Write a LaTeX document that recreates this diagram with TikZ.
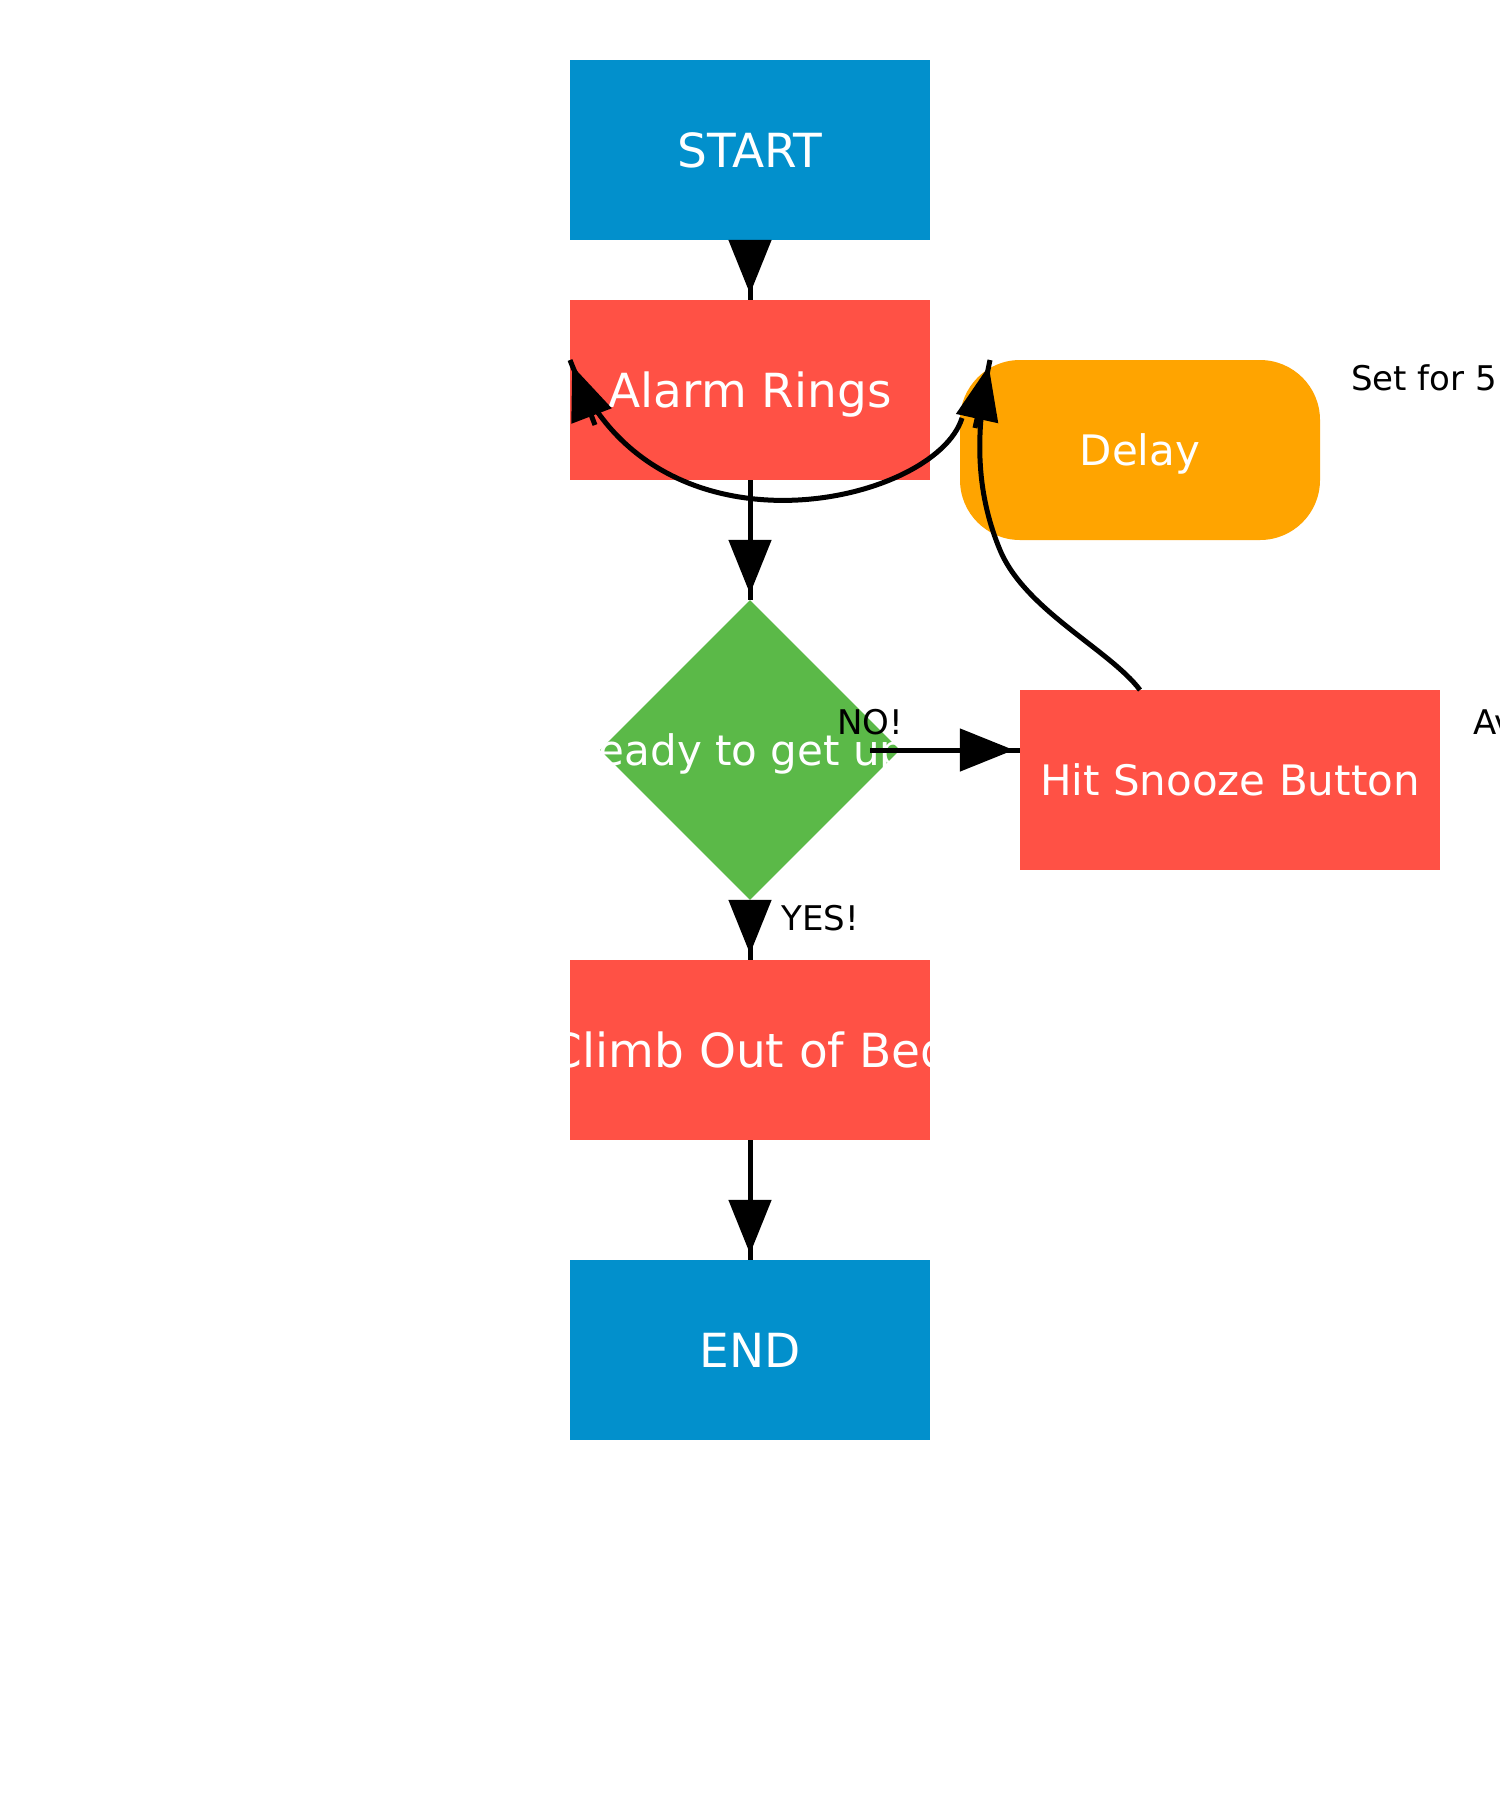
\documentclass[tikz,border=0pt]{standalone}
\usepackage{fontspec}
\setmainfont{DejaVu Sans}
\usetikzlibrary{shapes.geometric,arrows.meta}
\definecolor{bluebox}{RGB}{2,144,204}
\definecolor{redbox}{RGB}{255,81,69}
\definecolor{greenbox}{RGB}{91,185,72}
\definecolor{orangebox}{RGB}{255,164,0}
\begin{document}
\begin{tikzpicture}[x=1pt,y=-1pt,
  box/.style={rectangle, draw=none, minimum width=360pt, minimum height=180pt, inner sep=0pt},
  boxtext/.style={text=white, font=\fontsize{47}{56}\selectfont, inner sep=0pt, text height=34.3pt, text depth=0pt},
  smalltext/.style={text=white, font=\fontsize{42}{50}\selectfont, inner sep=0pt, text height=30.6pt, text depth=0pt},
  lab/.style={text=black, font=\fontsize{34}{40}\selectfont, inner sep=0pt},
  conn/.style={line width=5pt, draw=black},
  arrowline/.style={line width=5pt, draw=black, -{Triangle[length=54pt,width=42pt]}, shorten >=6pt},
]
\useasboundingbox (0,0) rectangle (1500,1800);
\clip (0,0) rectangle (1500,1800);
\fill[white] (0,0) rectangle (1500,1800);

% nodes
\node[box, fill=bluebox] (start) at (750,150) {};
\node[boxtext] (starttext) at (start.center) {START};
\node[box, fill=redbox] (alarm) at (750,390) {};
\node[boxtext] (alarmtext) at (alarm.center) {Alarm Rings};
\node[diamond, fill=greenbox, minimum width=300pt, minimum height=300pt, inner sep=0pt] (ready) at (750,750) {};
\node[smalltext] (readytext) at (ready.center) {Ready to get up?};
\node[box, fill=redbox] (climb) at (750,1050) {};
\node[boxtext] (climbtext) at (climb.center) {Climb Out of Bed};
\node[box, fill=bluebox] (finish) at (750,1350) {};
\node[boxtext] (finishtext) at (finish.center) {END};
\node[box, fill=redbox, minimum width=420pt] (snooze) at (1230,780) {};
\node[smalltext] (snoozetext) at (snooze.center) {Hit Snooze Button};
\node[box, fill=orangebox, rounded corners=60pt] (delay) at (1140,450) {};
\node[smalltext] (delaytext) at (delay.center) {Delay};

% side notes and edge labels
\node[lab, anchor=base west] (setfor) at (1351,390) {Set for 5 minutes};
\node[lab, anchor=base west] (avnote) at (1473,734) {Avoid getting up};
\node[lab, anchor=base] (nolab) at (870,734) {NO!};
\node[lab, anchor=base] (yeslab) at (820,930) {YES!};

% straight connectors
\draw[conn] (start.south) -- (alarm.north);
\draw[arrowline] (start.south) -- (alarm.north);
\draw[conn] (alarm.south) -- (ready.north);
\draw[arrowline] (alarm.south) -- (ready.north);
\draw[conn] (ready.south) -- (climb.north);
\draw[arrowline] (ready.south) -- (climb.north);
\draw[conn] (climb.south) -- (finish.north);
\draw[arrowline] (climb.south) -- (finish.north);

\coordinate (noout) at (870,750);
\coordinate (noin) at (snooze.west |- noout);
\draw[conn] (noout) -- (noin);
\draw[arrowline] (noout) -- (noin);

% curved connectors
\coordinate (snzout) at (1140,690);
\coordinate (delayin) at (990,360);
\coordinate (delayhead) at (975,428);
\draw[conn] (snzout) .. controls (1110,650) and (1025,610) .. (1000,550) .. controls (975,490) and (975,430) .. (delayin);
\draw[arrowline] (delayhead) -- (delayin);

\coordinate (delayout) at (962,418);
\coordinate (alarmin) at (570,360);
\coordinate (alarmhead) at (595,425);
\draw[conn] (delayout) .. controls (935,505) and (650,570) .. (alarmin);
\draw[arrowline] (alarmhead) -- (alarmin);
\end{tikzpicture}
\end{document}
